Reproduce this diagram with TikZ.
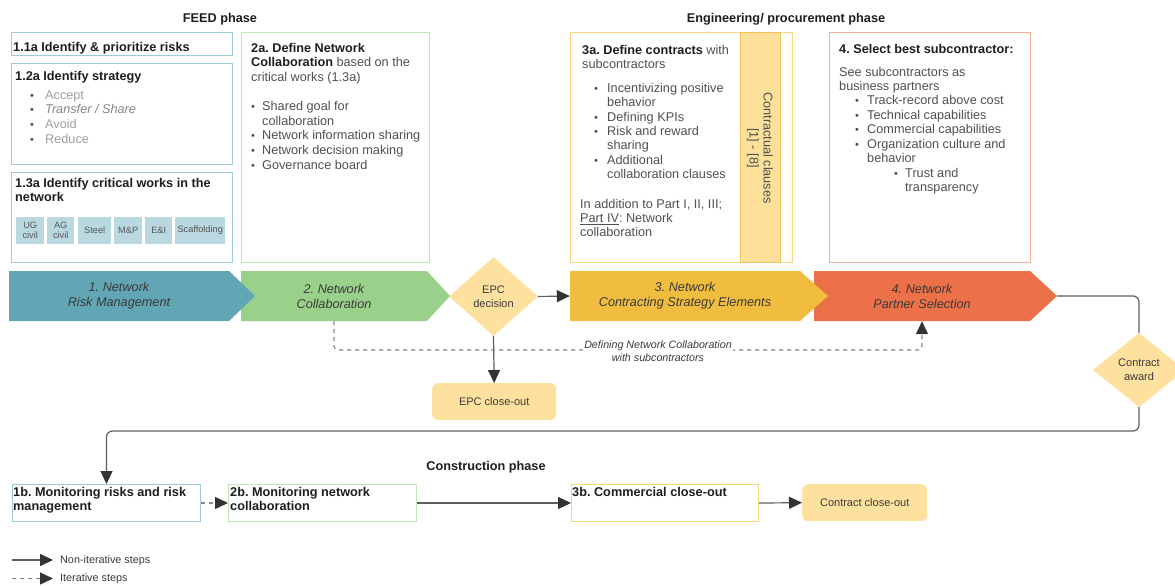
\documentclass[tikz,border=0pt]{standalone}
\usepackage{fontspec}
\setmainfont{Liberation Sans}
\usetikzlibrary{arrows.meta,shapes.geometric,calc}
\definecolor{cteal}{HTML}{62A6B6}
\definecolor{cgreen}{HTML}{99D18B}
\definecolor{cyel}{HTML}{F0BD3F}
\definecolor{corange}{HTML}{EC7048}
\definecolor{tealb}{HTML}{9ECCD6}
\definecolor{greenb}{HTML}{C3E5B7}
\definecolor{yelb}{HTML}{F9D77F}
\definecolor{orb}{HTML}{F4AE97}
\definecolor{colf}{HTML}{FDE09A}
\definecolor{colb}{HTML}{F2C45E}
\definecolor{lightfill}{HTML}{FEE19E}
\definecolor{tilef}{HTML}{BAD8DF}
\definecolor{tilet}{HTML}{555555}
\definecolor{bodyc}{HTML}{505050}
\definecolor{titc}{HTML}{1E1E1E}
\definecolor{ltc}{HTML}{A0A0A0}
\definecolor{midc}{HTML}{858585}
\definecolor{chevt}{HTML}{3A3A3A}
\definecolor{lnc}{HTML}{5E5E5E}
\definecolor{arrc}{HTML}{333333}
\definecolor{dashc}{HTML}{8A8A8A}
\frenchspacing
\newcommand\fbody{\fontsize{12.7}{14.6}\selectfont}
\newcommand\bl[1]{\makebox[#1][l]{\fontsize{11}{11}\selectfont\textbullet}}
\newcommand\fl{\rule{0pt}{9.2pt}}
\newcommand\tb[1]{\textcolor{titc}{\textbf{#1}}}
\begin{document}
\begin{tikzpicture}[x=1pt,y=-1pt,
  box/.style={draw=#1, line width=1pt, fill=white, inner sep=0pt, anchor=north west},
  tx/.style={anchor=north west, align=left, inner sep=0pt, font=\fbody, text=bodyc},
  tile/.style={fill=tilef, inner sep=0pt, anchor=north west, minimum height=27, align=center, font=\fontsize{9.2}{10.5}\selectfont, text=tilet},
  chev/.style={inner sep=0pt, minimum height=50, align=center, font=\fontsize{12.7}{15}\selectfont\itshape, text=chevt},
  dec/.style={diamond, fill=lightfill, inner sep=0pt, align=center, font=\fontsize{11}{14}\selectfont, text=chevt},
  term/.style={fill=lightfill, rounded corners=6pt, inner sep=0pt, anchor=north west, minimum height=37, font=\fontsize{11}{13}\selectfont, text=chevt},
  conn/.style={draw=lnc, line width=1.2pt},
  arr/.style={conn, -{Triangle[length=13pt,width=12pt,color=arrc]}},
  darr/.style={arr, draw=dashc, dash pattern=on 4pt off 4pt},
  phase/.style={font=\bfseries\fontsize{12.7}{14}\selectfont, text=titc, inner sep=0pt},
  lbl/.style={font=\itshape\fontsize{10.7}{13}\selectfont, text=chevt, align=center, fill=white, inner sep=1pt},
  leg/.style={font=\fontsize{10.8}{12}\selectfont, text=chevt, anchor=west, inner sep=0pt}
]
\useasboundingbox (0,0) rectangle (1175,586);
\fill[white] (0,0) rectangle (1175,586);

% phase titles
\node[phase] (feed) at (220,19) {FEED phase};
\node[phase] (eng) at (786,19) {Engineering/ procurement phase};
\node[phase] (cons) at (486,467) {Construction phase};

% FEED boxes
\node[box=tealb, minimum width=220.5, minimum height=23] (b11) at (11,32.5) {};
\node[box=tealb, minimum width=220.5, minimum height=100] (b12) at (11,63.5) {};
\node[box=tealb, minimum width=220.5, minimum height=89.5] (b13) at (11,172) {};
\node[tx] (txt11) at (13,41.8) {\fl\tb{1.1a Identify \& prioritize risks}};
\node[tx] (txt12) at (15,70.8) {\fl\tb{1.2a Identify strategy}\\[4.4pt]
\hspace*{15pt}\bl{15pt}\textcolor{ltc}{Accept}\\
\hspace*{15pt}\bl{15pt}\textcolor{midc}{\itshape Transfer / Share}\\
\hspace*{15pt}\bl{15pt}\textcolor{ltc}{Avoid}\\
\hspace*{15pt}\bl{15pt}\textcolor{ltc}{Reduce}};
\node[tx] (txt13) at (15,177.8) {\fl\tb{1.3a Identify critical works in the}\\\tb{network}};
\node[tile, minimum width=28] (tug) at (16,216.5) {UG\\civil};
\node[tile, minimum width=27] (tag) at (47,216.5) {AG\\civil};
\node[tile, minimum width=33] (tst) at (78,216.5) {Steel};
\node[tile, minimum width=28] (tmp) at (114,216.5) {M\&P};
\node[tile, minimum width=27] (tei) at (145,216.5) {E\&I};
\node[tile, minimum width=50] (tsc) at (175,216.5) {Scaffolding};

\node[box=greenb, minimum width=188, minimum height=229] (b2a) at (241,32.5) {};
\node[tx] (txt2a) at (251,42.8) {\fl\tb{2a. Define Network}\\
\tb{Collaboration} based on the\\
critical works (1.3a)\\[14.6pt]
\bl{11pt}Shared goal for\\
\hspace*{11pt}collaboration\\
\bl{11pt}Network information sharing\\
\bl{11pt}Network decision making\\
\bl{11pt}Governance board};

% Engineering boxes
\node[box=yelb, minimum width=222, minimum height=229] (b3a) at (570,32.5) {};
\node[box=colb, fill=colf, minimum width=40, minimum height=229] (col) at (740,32.5) {};
\node[rotate=-90, font=\fontsize{12.7}{14}\selectfont, text=bodyc, align=center, inner sep=0pt] (cc) at (760,148) {Contractual clauses\\{[1] - [8]}};
\node[tx, font=\fontsize{12.7}{14.35}\selectfont] (txt3a) at (580,44.8) {\fl\hspace*{2pt}\tb{3a. Define contracts} with\\
\hspace*{2pt}subcontractors\\[9.4pt]
\hspace*{14pt}\bl{13pt}Incentivizing positive\\
\hspace*{27pt}behavior\\
\hspace*{14pt}\bl{13pt}Defining KPIs\\
\hspace*{14pt}\bl{13pt}Risk and reward\\
\hspace*{27pt}sharing\\
\hspace*{14pt}\bl{13pt}Additional\\
\hspace*{27pt}collaboration clauses\\[15.4pt]
In addition to Part I, II, III;\\
\underline{Part IV}: Network\\
collaboration};

\node[box=orb, minimum width=201, minimum height=229] (b4) at (829,32.5) {};
\node[tx, font=\fontsize{12.7}{14.45}\selectfont] (txt4) at (839,43.8) {\fl\tb{4. Select best subcontractor:}\\[8.4pt]
See subcontractors as\\
business partners\\
\hspace*{16pt}\bl{12pt}Track-record above cost\\
\hspace*{16pt}\bl{12pt}Technical capabilities\\
\hspace*{16pt}\bl{12pt}Commercial capabilities\\
\hspace*{16pt}\bl{12pt}Organization culture and\\
\hspace*{28pt}behavior\\
\hspace*{55pt}\bl{11pt}Trust and\\
\hspace*{66pt}transparency};

% chevrons
\fill[cgreen] (241,271) -- (427,271) -- (450,296) -- (427,321) -- (241,321) -- cycle;
\fill[cteal] (9,271) -- (229,271) -- (255,296) -- (229,321) -- (9,321) -- cycle;
\fill[corange] (814,271) -- (1030,271) -- (1057,296) -- (1030,321) -- (814,321) -- cycle;
\fill[cyel] (570,271) -- (800,271) -- (828,296) -- (800,321) -- (570,321) -- cycle;
\node[chev, minimum width=220] (n1) at (119,296) {1. Network\\Risk Management};
\node[chev, minimum width=186] (n2) at (334,296) {2. Network\\Collaboration};
\node[chev, minimum width=230] (n3) at (685,296) {3. Network\\Contracting Strategy Elements};
\node[chev, minimum width=216] (n4) at (922,296) {4. Network\\Partner Selection};
\coordinate (tip4) at (1057,296);

% decisions and terminals
\node[dec, minimum width=89, minimum height=79] (epc) at (493.5,296.5) {EPC\\decision};
\node[term, minimum width=124] (epcc) at (432,383) {EPC close-out};
\node[dec, minimum width=92, minimum height=74] (ca) at (1139,370) {Contract\\award};

% construction boxes
\node[box=tealb, minimum width=188, minimum height=37] (b1b) at (12,484) {};
\node[box=greenb, minimum width=188, minimum height=37] (b2b) at (228,484) {};
\node[box=yelb, minimum width=187, minimum height=37] (b3b) at (571,484) {};
\node[term, minimum width=125] (cco) at (802,484) {Contract close-out};
\node[tx] (txt1b) at (13,486.8) {\fl\tb{1b. Monitoring risks and risk}\\\tb{management}};
\node[tx] (txt2b) at (230,486.8) {\fl\tb{2b. Monitoring network}\\\tb{collaboration}};
\node[tx] (txt3b) at (572,486.8) {\fl\tb{3b. Commercial close-out}};

% connectors
\draw[arr] (epc.east) -- (n3.west);
\draw[arr] (epc.south) -- (epcc.north);
\coordinate (dy) at (0,350);
\draw[darr, rounded corners=4pt] (n2.south) -- (n2.south |- dy) -- (n4.south |- dy) -- (n4.south);
\node[lbl] (dlab) at (658,351.5) {Defining Network Collaboration\\with subcontractors};
\draw[conn, rounded corners=6pt] (tip4) -- (tip4 -| ca.north) -- (ca.north);
\coordinate (turn) at (0,431);
\draw[arr, rounded corners=6pt] (ca.south) -- (ca.south |- turn) -- (b1b.north |- turn) -- (b1b.north);
\draw[darr] (b1b.east) -- (b2b.west);
\draw[arr] (b2b.east) -- (b3b.west);
\draw[arr] (b3b.east) -- (cco.west);

% legend
\coordinate (la) at (12,560);
\coordinate (lb) at (53,560);
\coordinate (lc) at (12,578.5);
\coordinate (ld) at (53,578.5);
\draw[arr] (la) -- (lb);
\draw[darr] (lc) -- (ld);
\node[leg] (lg1) at (60,561) {Non-iterative steps};
\node[leg] (lg2) at (60,579) {Iterative steps};
\end{tikzpicture}
\end{document}
